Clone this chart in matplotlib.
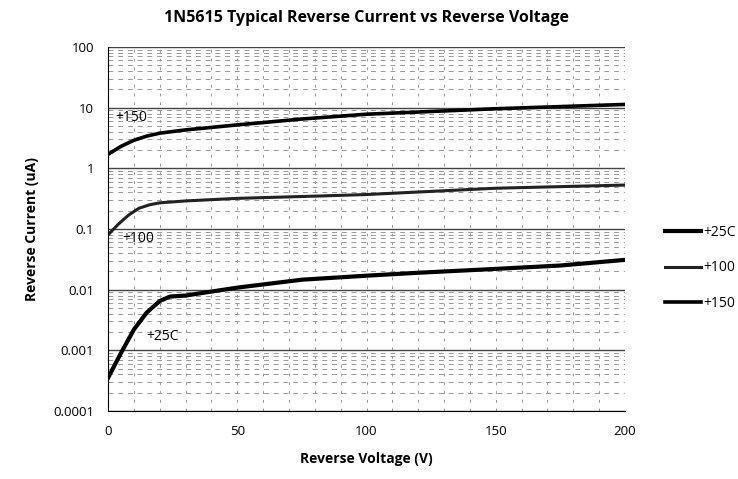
import matplotlib
matplotlib.use("Agg")
import matplotlib.pyplot as plt
from matplotlib.ticker import FixedLocator, FixedFormatter, MultipleLocator, LogLocator, NullFormatter

plt.rcParams['font.family'] = ['Open Sans', 'DejaVu Sans']

# Data
v25 = [0, 5, 10, 15, 20, 24, 30, 40, 50, 75, 100, 120, 150, 175, 200]
i25 = [0.00035, 0.0009, 0.0022, 0.0042, 0.0065, 0.0077, 0.0080, 0.0093, 0.0108,
       0.0146, 0.017, 0.019, 0.022, 0.025, 0.031]

v100 = [0, 4, 8, 12, 16, 20, 30, 50, 82, 100, 150, 200]
i100 = [0.08, 0.12, 0.17, 0.22, 0.25, 0.27, 0.29, 0.32, 0.35, 0.37, 0.47, 0.53]

v150 = [0, 5, 10, 15, 20, 30, 50, 75, 100, 150, 200]
i150 = [1.7, 2.3, 2.9, 3.4, 3.8, 4.3, 5.2, 6.5, 7.8, 9.6, 11.3]

series_names = ['+25C', '+100', '+150']
y_ticks = [0.0001, 0.001, 0.01, 0.1, 1, 10, 100]
y_tick_labels = ['0.0001', '0.001', '0.01', '0.1', '1', '10', '100']
x_ticks = [0, 50, 100, 150, 200]

fig = plt.figure(figsize=(7.38, 4.79), dpi=100)
ax = fig.add_axes([108/738, 1-411/479, (625-108)/738, (411-47)/479])

ax.set_yscale('log')
ax.set_xlim(0, 200)
ax.set_ylim(0.0001, 100)

ax.yaxis.set_major_locator(FixedLocator(y_ticks))
ax.yaxis.set_major_formatter(FixedFormatter(y_tick_labels))
ax.yaxis.set_minor_locator(LogLocator(base=10, subs=range(2, 10)))
ax.yaxis.set_minor_formatter(NullFormatter())
ax.xaxis.set_major_locator(FixedLocator(x_ticks))
ax.xaxis.set_minor_locator(MultipleLocator(10))

ax.grid(True, which='major', axis='y', color='#444444', linewidth=1.0)
ax.grid(True, which='minor', axis='y', color='#999999', linewidth=0.7, linestyle=(0, (5, 5)))
ax.grid(True, which='both', axis='x', color='#999999', linewidth=0.7, linestyle=(0, (3, 6)))
ax.set_axisbelow(True)

l25, = ax.plot(v25, i25, color='black', linewidth=3.0, label=series_names[0])
l100, = ax.plot(v100, i100, color='#222222', linewidth=2.2, label=series_names[1])
l150, = ax.plot(v150, i150, color='black', linewidth=2.6, label=series_names[2])

ax.text(3, 6.9, '+150', fontsize=10, va='center', ha='left')
ax.text(5.5, 0.071, '+100', fontsize=10, va='center', ha='left')
ax.text(15, 0.0017, '+25C', fontsize=10, va='center', ha='left')

for sp in ['top', 'right']:
    ax.spines[sp].set_visible(False)
ax.spines['left'].set_color('black')
ax.spines['bottom'].set_color('black')
ax.tick_params(which='both', length=0, labelsize=9.5, pad=10)

ax.set_title('1N5615 Typical Reverse Current vs Reverse Voltage', fontsize=11.5,
             fontweight='bold', pad=18)
ax.set_xlabel('Reverse Voltage (V)', fontsize=10, fontweight='bold', labelpad=10)
ax.set_ylabel('Reverse Current (uA)', fontsize=10, fontweight='bold', labelpad=10)

leg = fig.legend(handles=[l25, l100, l150], labels=series_names,
                 loc='center left', bbox_to_anchor=(652/738, 1-268/479),
                 frameon=False, fontsize=10, handlelength=2.6, handletextpad=0.2,
                 labelspacing=1.5)

fig.savefig('out.png', dpi=100)
